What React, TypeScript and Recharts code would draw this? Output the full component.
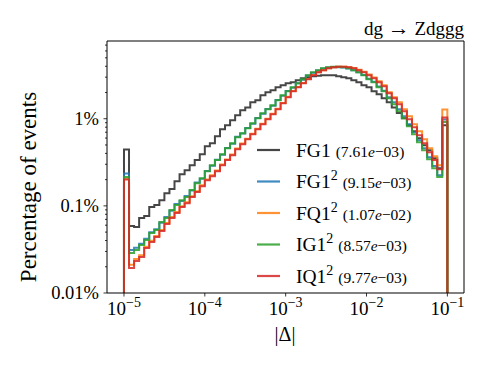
import React from 'react';
import { LineChart, Line, XAxis, YAxis, ReferenceLine } from 'recharts';

// Histogram binning: log-uniform bins from 1e-5 to 1e-1 (first/last bins hold under/overflow)
const X_MIN_EXP = -5;
const BINS_PER_DECADE = 16;

// Percentage of events per bin (64 bins)
const FG1 = [
  0.444, 0.0586, 0.0571, 0.0724, 0.0763, 0.0968, 0.102, 0.116, 0.140, 0.156,
  0.192, 0.231, 0.257, 0.293, 0.335, 0.392, 0.484, 0.524, 0.630, 0.758,
  0.842, 0.961, 1.10, 1.25, 1.35, 1.55, 1.63, 1.86, 2.01, 2.12,
  2.30, 2.42, 2.55, 2.62, 2.76, 2.91, 2.99, 3.07, 3.11, 3.15,
  3.15, 3.15, 3.07, 2.99, 2.91, 2.76, 2.62, 2.42, 2.30, 2.07,
  1.91, 1.72, 1.55, 1.35, 1.16, 1.01, 0.842, 0.719, 0.598, 0.497,
  0.436, 0.353, 0.271, 0.842,
];
const FG1_SQ = [
  0.235, 0.0311, 0.0330, 0.0368, 0.0420, 0.0498, 0.0540, 0.0640, 0.0745, 0.0880,
  0.105, 0.114, 0.130, 0.150, 0.185, 0.205, 0.252, 0.288, 0.338, 0.385,
  0.462, 0.515, 0.620, 0.675, 0.785, 0.878, 1.020, 1.140, 1.295, 1.410,
  1.640, 1.835, 2.075, 2.270, 2.560, 2.800, 3.140, 3.380, 3.580, 3.760,
  3.860, 3.910, 3.910, 3.870, 3.780, 3.600, 3.420, 3.170, 2.870, 2.650,
  2.340, 2.100, 1.764, 1.546, 1.285, 1.068, 0.865, 0.700, 0.567, 0.459,
  0.362, 0.286, 0.225, 0.98,
];
const FQ1_SQ = [
  0.205, 0.0211, 0.0245, 0.0272, 0.0340, 0.0398, 0.0452, 0.0530, 0.0635, 0.0745,
  0.0850, 0.0990, 0.110, 0.129, 0.147, 0.172, 0.201, 0.224, 0.255, 0.298,
  0.340, 0.388, 0.455, 0.518, 0.590, 0.672, 0.768, 0.876, 0.998, 1.140,
  1.300, 1.520, 1.790, 2.080, 2.310, 2.570, 2.850, 3.170, 3.420, 3.610,
  3.800, 3.900, 3.950, 3.960, 3.910, 3.820, 3.640, 3.460, 3.210, 2.980,
  2.690, 2.420, 2.012, 1.764, 1.546, 1.285, 1.068, 0.865, 0.719, 0.582,
  0.459, 0.372, 0.293, 1.28,
];
const IG1_SQ = [
  0.215, 0.0287, 0.0311, 0.0355, 0.0405, 0.0487, 0.0527, 0.0651, 0.0724, 0.0894,
  0.102, 0.116, 0.126, 0.152, 0.182, 0.208, 0.250, 0.293, 0.335, 0.392,
  0.459, 0.524, 0.614, 0.682, 0.778, 0.888, 1.013, 1.156, 1.285, 1.428,
  1.629, 1.859, 2.066, 2.296, 2.553, 2.836, 3.151, 3.412, 3.597, 3.792,
  3.893, 3.945, 3.945, 3.893, 3.792, 3.597, 3.412, 3.151, 2.836, 2.620,
  2.296, 2.066, 1.718, 1.466, 1.219, 1.013, 0.820, 0.664, 0.538, 0.436,
  0.343, 0.271, 0.214, 0.92,
];
const IQ1_SQ = [
  0.201, 0.0193, 0.0233, 0.0259, 0.0328, 0.0384, 0.0438, 0.0514, 0.0618, 0.0724,
  0.0826, 0.0968, 0.1075, 0.126, 0.144, 0.168, 0.197, 0.219, 0.250, 0.293,
  0.335, 0.382, 0.447, 0.510, 0.582, 0.664, 0.758, 0.865, 0.987, 1.126,
  1.285, 1.504, 1.764, 2.066, 2.296, 2.553, 2.836, 3.151, 3.412, 3.597,
  3.792, 3.893, 3.945, 3.945, 3.893, 3.792, 3.597, 3.412, 3.151, 2.912,
  2.620, 2.358, 1.961, 1.718, 1.466, 1.219, 0.987, 0.799, 0.647, 0.524,
  0.413, 0.335, 0.264, 1.03,
];

const SERIES = [
  { key: 'FG1', values: FG1, color: '#262626', name: 'FG1', sup: '', score: '7.61', exp: '−03' },
  { key: 'FG1_SQ', values: FG1_SQ, color: '#1f77b4', name: 'FG1', sup: '2', score: '9.15', exp: '−03' },
  { key: 'FQ1_SQ', values: FQ1_SQ, color: '#ff7f0e', name: 'FQ1', sup: '2', score: '1.07', exp: '−02' },
  { key: 'IG1_SQ', values: IG1_SQ, color: '#2ca02c', name: 'IG1', sup: '2', score: '8.57', exp: '−03' },
  { key: 'IQ1_SQ', values: IQ1_SQ, color: '#d62728', name: 'IQ1', sup: '2', score: '9.77', exp: '−03' },
];

const X_TICKS = [1e-5, 1e-4, 1e-3, 1e-2, 1e-1];
const X_TICK_EXPONENTS = ['−5', '−4', '−3', '−2', '−1'];
const Y_MAJOR_TICKS = [0.01, 0.1, 1];
const Y_MAJOR_LABELS = ['0.01%', '0.1%', '1%'];
const Y_MINOR_TICKS = [
  0.02, 0.03, 0.04, 0.05, 0.06, 0.07, 0.08, 0.09,
  0.2, 0.3, 0.4, 0.5, 0.6, 0.7, 0.8, 0.9,
  2, 3, 4, 5, 6, 7,
];
const X_DOMAIN = [Math.pow(10, -5.21), Math.pow(10, -0.794)];
const Y_DOMAIN = [0.01, 7.8];
const FLOOR = 1e-4;

const TITLE_A = 'dg';
const TITLE_ARROW = '→';
const TITLE_B = 'Zdggg';
const X_LABEL = '|Δ|';
const Y_LABEL = 'Percentage of events';

const FONT = '"Liberation Serif", "DejaVu Serif", serif';

function buildRows() {
  const n = FG1.length;
  const edge = (k: number) => Math.pow(10, X_MIN_EXP + k / BINS_PER_DECADE);
  const rows: any[] = [];
  const start: any = { x: edge(0) };
  SERIES.forEach((s) => (start[s.key] = FLOOR));
  rows.push(start);
  for (let k = 0; k < n; k++) {
    const r: any = { x: edge(k) };
    SERIES.forEach((s) => (r[s.key] = s.values[k]));
    rows.push(r);
  }
  const last: any = { x: edge(n) };
  SERIES.forEach((s) => (last[s.key] = s.values[n - 1]));
  rows.push(last);
  const end: any = { x: edge(n) };
  SERIES.forEach((s) => (end[s.key] = FLOOR));
  rows.push(end);
  return rows;
}

const ROWS = buildRows();

const YTick = (props: any) => {
  const { x, y, payload } = props;
  const idx = Y_MAJOR_TICKS.indexOf(payload.value);
  const major = idx >= 0;
  const len = major ? 3.5 : 2;
  return (
    <g>
      <line x1={x - len} x2={x} y1={y} y2={y} stroke="#000" strokeWidth={0.8} />
      {major && (
        <text x={x - 8} y={y + 6} textAnchor="end" fontSize={18.5} fontFamily={FONT} fill="#000">
          {Y_MAJOR_LABELS[idx]}
        </text>
      )}
    </g>
  );
};

const XTick = (props: any) => {
  const { x, y, payload } = props;
  const idx = X_TICKS.indexOf(payload.value);
  return (
    <g>
      <line x1={x} x2={x} y1={y} y2={y + 3.5} stroke="#000" strokeWidth={0.8} />
      <text x={x} y={y + 22} textAnchor="middle" fontSize={19} fontFamily={FONT} fill="#000">
        10<tspan fontSize={14} dy={-8}>{X_TICK_EXPONENTS[idx]}</tspan>
      </text>
    </g>
  );
};

export default function App() {
  const legendX = 257;
  const legendTop = 150;
  const legendStep = 31.5;
  return (
    <div style={{ position: 'relative', width: 488, height: 366, margin: -8, background: '#fff' }}>
      <LineChart
        width={488}
        height={366}
        data={ROWS}
        margin={{ top: 41, right: 24, bottom: 33, left: 47 }}
      >
        <XAxis
          dataKey="x"
          type="number"
          scale="log"
          domain={X_DOMAIN}
          allowDataOverflow
          ticks={X_TICKS}
          interval={0}
          tick={<XTick />}
          tickLine={false}
          tickSize={0}
          tickMargin={0}
          height={40}
          axisLine={{ stroke: '#000', strokeWidth: 1 }}
        />
        <YAxis
          type="number"
          scale="log"
          domain={Y_DOMAIN}
          allowDataOverflow
          ticks={[...Y_MAJOR_TICKS, ...Y_MINOR_TICKS]}
          interval={0}
          tick={<YTick />}
          tickLine={false}
          tickSize={0}
          tickMargin={0}
          width={60}
          axisLine={{ stroke: '#000', strokeWidth: 1 }}
        />
        <ReferenceLine y={Y_DOMAIN[1]} stroke="#000" strokeWidth={1} />
        <ReferenceLine x={X_DOMAIN[1]} stroke="#000" strokeWidth={1} />
        {SERIES.map((s) => (
          <Line
            key={s.key}
            dataKey={s.key}
            type="stepAfter"
            stroke={s.color}
            strokeOpacity={0.85}
            strokeWidth={2}
            dot={false}
            activeDot={false}
            isAnimationActive={false}
          />
        ))}
      </LineChart>
      <svg
        width={488}
        height={366}
        style={{ position: 'absolute', left: 0, top: 0, pointerEvents: 'none' }}
        fontFamily={FONT}
      >
        <text x={464} y={35} textAnchor="end" fontSize={19} fill="#000">
          {TITLE_A} <tspan fontSize={22}>{TITLE_ARROW}</tspan> {TITLE_B}
        </text>
        <text x={285} y={341} textAnchor="middle" fontSize={20} fill="#000">
          {X_LABEL}
        </text>
        <text
          transform="rotate(-90)"
          x={-187}
          y={36}
          textAnchor="middle"
          fontSize={23}
          fill="#000"
        >
          {Y_LABEL}
        </text>
        {SERIES.map((s, i) => {
          const ly = legendTop + i * legendStep;
          return (
            <g key={s.key}>
              <line
                x1={legendX}
                x2={legendX + 23}
                y1={ly}
                y2={ly}
                stroke={s.color}
                strokeOpacity={0.85}
                strokeWidth={2.2}
              />
              <text x={296} y={ly + 6.5} fontSize={19.5} fill="#000">
                {s.name}
                {s.sup && (
                  <tspan fontSize={14} dy={-8}>
                    {s.sup}
                  </tspan>
                )}
                <tspan fontSize={15.5} dx={5} dy={s.sup ? 8 : 0}>
                  ({s.score}
                  <tspan fontStyle="italic">e</tspan>
                  {s.exp})
                </tspan>
              </text>
            </g>
          );
        })}
      </svg>
    </div>
  );
}
